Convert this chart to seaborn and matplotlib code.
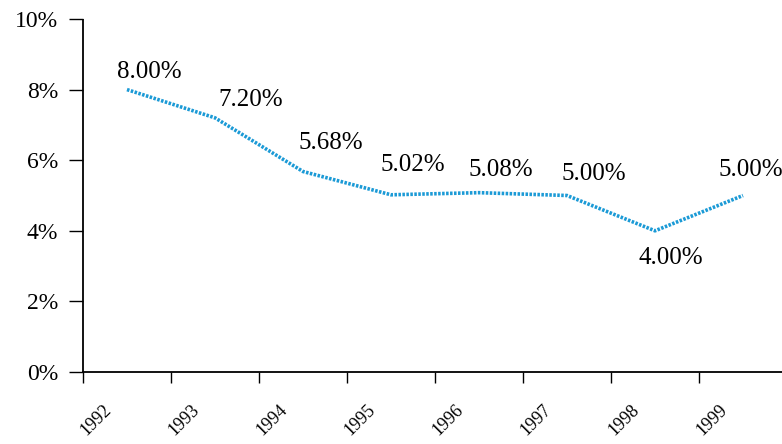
import seaborn as sns
import matplotlib.pyplot as plt
from matplotlib.ticker import FuncFormatter, FixedLocator, NullFormatter
import pandas as pd
import numpy as np

# data
years = ['1992', '1993', '1994', '1995', '1996', '1997', '1998', '1999']
rates = [8.00, 7.20, 5.68, 5.02, 5.08, 5.00, 4.00, 5.00]
# where each value label sits relative to its point (pixels), hand placed like the source
label_dx = [22, 36, 28, 22, 22, 27, 16, 8]
label_dy = [18, 18, 28, 30, 23, 21, -27, 25]

df = pd.DataFrame({'pos': np.arange(len(years)), 'rate': rates})

sns.set_theme(style='ticks')
plt.rcParams['font.family'] = ['Liberation Serif', 'DejaVu Serif']

fig = plt.figure(figsize=(7.82, 4.44), dpi=100)
ax = fig.add_axes([83 / 782, 72 / 444, 704 / 782, 353 / 444])

sns.lineplot(data=df, x='pos', y='rate', ax=ax, color='#1b9ad6',
             linewidth=2.6, linestyle=(0, (0.7, 0.4)))

ax.set_xlim(-0.5, 7.5)
ax.set_ylim(0, 10)
ax.set_xlabel('')
ax.set_ylabel('')

ax.set_yticks(np.arange(0, 11, 2))
ax.yaxis.set_major_formatter(FuncFormatter(lambda v, p: f'{v:.0f}%'))

# tick marks on the category boundaries, year labels a bit to the right of them
ax.set_xticks(np.arange(len(years)) - 0.5)
ax.xaxis.set_major_formatter(NullFormatter())
ax.xaxis.set_minor_locator(FixedLocator(np.arange(len(years)) - 0.35))
ax.set_xticklabels(years, minor=True, rotation=45, ha='center')

ax.tick_params(axis='y', direction='out', length=10, width=1, color='black',
               pad=8, labelsize=17, labelcolor='black')
ax.tick_params(axis='x', which='major', direction='out', length=8, width=1,
               color='black')
ax.tick_params(axis='x', which='minor', length=0, pad=21, labelsize=13,
               labelcolor='black')

sns.despine(ax=ax)
for side in ['left', 'bottom']:
    ax.spines[side].set_linestyle((0, (1, 1)))
    ax.spines[side].set_linewidth(1.3)
    ax.spines[side].set_color('black')

for i, v in enumerate(rates):
    ax.annotate(f'{v:.2f}%', xy=(i, v), xytext=(label_dx[i], label_dy[i]),
                textcoords='offset pixels', ha='center', va='center',
                fontsize=18, color='black')

fig.savefig('out.png', dpi=100)
